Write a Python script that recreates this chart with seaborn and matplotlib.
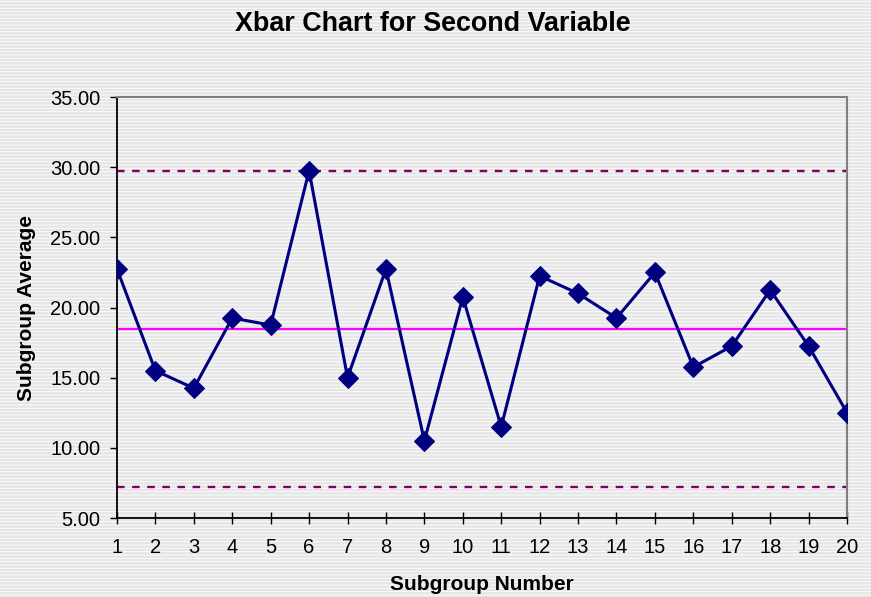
import numpy as np
import pandas as pd
import matplotlib
matplotlib.use("Agg")
import matplotlib.pyplot as plt
import seaborn as sns

# subgroup averages
subgroups = list(range(1, 21))
averages = [22.75, 15.5, 14.25, 19.25, 18.75, 29.75, 15.0, 22.75, 10.5, 20.75,
            11.5, 22.25, 21.0, 19.25, 22.5, 15.75, 17.25, 21.25, 17.25, 12.5]
center_line = 18.49
ucl = 29.76
lcl = 7.22

df = pd.DataFrame({"subgroup": subgroups, "average": averages})

sns.set_style("white")
plt.rcParams["font.family"] = ["Liberation Sans", "DejaVu Sans"]
plt.rcParams["text.color"] = "black"
plt.rcParams["axes.labelcolor"] = "black"
plt.rcParams["xtick.color"] = "black"
plt.rcParams["ytick.color"] = "black"
plt.rcParams["hatch.color"] = "white"
plt.rcParams["hatch.linewidth"] = 0.6

fig = plt.figure(figsize=(8.71, 5.97), dpi=100)
# striped grey background like the old spreadsheet chart
fig.patch.set_facecolor("#e6e6e6")
fig.patch.set_hatch("-----")
fig.patch.set_edgecolor("white")
fig.patch.set_linewidth(0)

ax = fig.add_axes([0.1343, 0.1323, 0.8382, 0.7052])
ax.patch.set_alpha(0)

# control limits and centre line
ax.axhline(ucl, color="#800060", lw=1.7, dashes=(3.2, 3.2), zorder=1)
ax.axhline(lcl, color="#800060", lw=1.7, dashes=(3.2, 3.2), zorder=1)
ax.axhline(center_line, color="#ff00ff", lw=1.6, zorder=1)

sns.lineplot(data=df, x="subgroup", y="average", ax=ax, color="#000080",
             lw=2.2, marker="D", markersize=10, markeredgecolor="#000080",
             zorder=3)

ax.set_xlim(1, 20)
ax.set_ylim(5, 35)
ax.set_xticks(subgroups)
ax.set_yticks(np.arange(5, 36, 5))
ax.set_yticklabels([f"{v:.2f}" for v in np.arange(5, 36, 5)])

for side in ["left", "bottom"]:
    ax.spines[side].set_color("black")
    ax.spines[side].set_linewidth(1.3)
for side in ["top", "right"]:
    ax.spines[side].set_visible(True)
    ax.spines[side].set_color("#808080")
    ax.spines[side].set_linewidth(1.5)

ax.tick_params(axis="x", direction="inout", length=9, width=1,
               labelsize=14.5, pad=10, bottom=True)
ax.tick_params(axis="y", direction="out", length=5, width=1,
               labelsize=14.5, pad=7, left=True)

ax.set_xlabel("Subgroup Number", fontsize=15, fontweight="bold", labelpad=12.5)
ax.set_ylabel("Subgroup Average", fontsize=15, fontweight="bold", labelpad=10)
fig.suptitle("Xbar Chart for Second Variable", fontsize=19.4, fontweight="bold",
             x=0.497, y=0.96, va="center")

fig.savefig("out.png", dpi=100, facecolor=fig.get_facecolor())
